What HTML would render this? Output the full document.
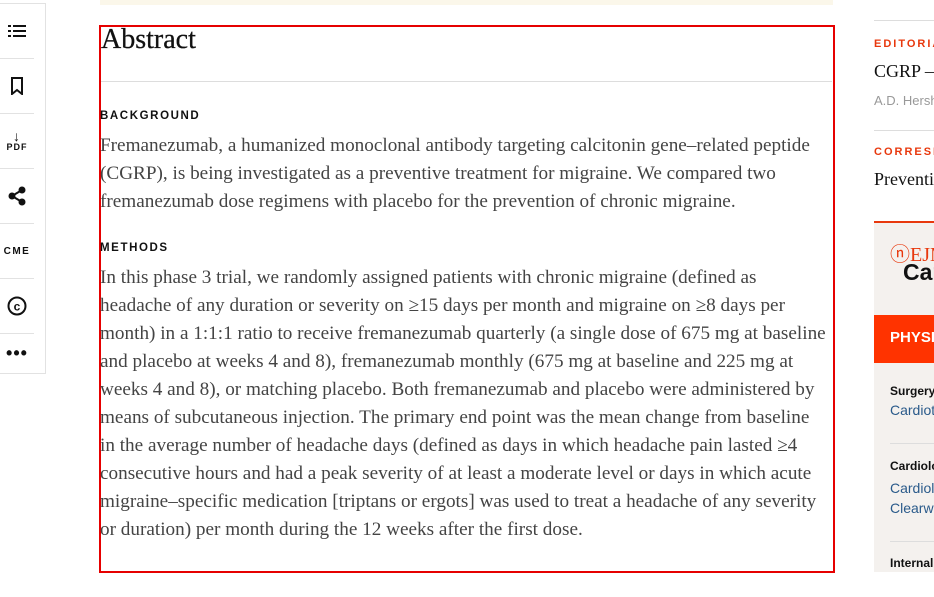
<!DOCTYPE html>
<html><head><meta charset="utf-8"><style>
*{margin:0;padding:0;box-sizing:border-box}
body{width:934px;height:597px;overflow:hidden;background:#fff;position:relative;font-family:"Liberation Serif",serif;color:#444}
.abs{position:absolute;white-space:nowrap}
.side{position:absolute;left:0;top:3px;width:46px;border:1px solid #e2e2e2;border-left:none}
.si{height:55px;border-bottom:1px solid #e2e2e2;display:flex;align-items:center;justify-content:center;width:34px;font-family:"Liberation Sans",sans-serif;color:#111}
.si:last-child{border-bottom:none;height:39px}
.lbl{font-family:"Liberation Sans",sans-serif;font-weight:bold;font-size:11.5px;letter-spacing:1.6px;color:#111}
.ln{font-size:19.2px;line-height:28px;left:100px}
.rs{font-family:"Liberation Sans",sans-serif}
#right{position:absolute;left:0;top:0;width:934px;height:597px;overflow:hidden}
</style></head><body>
<div class="side">
 <div class="si"><svg width="18" height="14"><g fill="#111"><rect x="0" y="1" width="3" height="2"/><rect x="5" y="1" width="13" height="2"/><rect x="0" y="6" width="3" height="2"/><rect x="5" y="6" width="13" height="2"/><rect x="0" y="11" width="3" height="2"/><rect x="5" y="11" width="13" height="2"/></g></svg></div>
 <div class="si"><svg width="14" height="18"><path d="M2 1h10v16l-5-4-5 4z" fill="none" stroke="#111" stroke-width="2"/></svg></div>
 <div class="si" style="flex-direction:column;font-size:9px;font-weight:bold;letter-spacing:1px"><span style="font-size:14px;line-height:12px;font-weight:bold">↓</span>PDF</div>
 <div class="si"><svg width="18" height="20"><g fill="#111"><circle cx="14" cy="4" r="3.5"/><circle cx="4" cy="10" r="3.5"/><circle cx="14" cy="16" r="3.5"/></g><path d="M14 4L4 10L14 16" stroke="#111" stroke-width="2" fill="none"/></svg></div>
 <div class="si" style="font-size:10px;font-weight:bold;letter-spacing:1.5px">CME</div>
 <div class="si"><svg width="20" height="20"><circle cx="10" cy="10" r="8.5" fill="none" stroke="#111" stroke-width="2"/><text x="10" y="14.5" text-anchor="middle" font-family="Liberation Sans" font-weight="bold" font-size="12" fill="#111">c</text></svg></div>
 <div class="si" style="font-size:18px;font-weight:bold;letter-spacing:1px">•••</div>
</div>
<div class="abs" style="left:100px;top:0;width:733px;height:5px;background:#fbf7ea"></div>
<div class="abs" style="left:99px;top:25px;width:736px;height:548px;border:2px solid #e60000"></div>
<div class="abs" style="left:101px;top:24px;font-size:28px;color:#111;-webkit-text-stroke:0.3px #111">Abstract</div>
<div class="abs" style="left:101px;top:81px;width:731px;height:1px;background:#ddd"></div>
<div class="abs lbl" style="left:100px;top:110px">BACKGROUND</div>
<div class="abs ln" style="top:132px">Fremanezumab, a humanized monoclonal antibody targeting calcitonin gene–related peptide<br>(CGRP), is being investigated as a preventive treatment for migraine. We compared two<br>fremanezumab dose regimens with placebo for the prevention of chronic migraine.</div>
<div class="abs lbl" style="left:100px;top:242px">METHODS</div>
<div class="abs ln" style="top:264px">In this phase 3 trial, we randomly assigned patients with chronic migraine (defined as<br>headache of any duration or severity on ≥15 days per month and migraine on ≥8 days per<br>month) in a 1:1:1 ratio to receive fremanezumab quarterly (a single dose of 675 mg at baseline<br>and placebo at weeks 4 and 8), fremanezumab monthly (675 mg at baseline and 225 mg at<br>weeks 4 and 8), or matching placebo. Both fremanezumab and placebo were administered by<br>means of subcutaneous injection. The primary end point was the mean change from baseline<br>in the average number of headache days (defined as days in which headache pain lasted ≥4<br>consecutive hours and had a peak severity of at least a moderate level or days in which acute<br>migraine–specific medication [triptans or ergots] was used to treat a headache of any severity<br>or duration) per month during the 12 weeks after the first dose.</div>

<div id="right">
<div class="abs" style="left:874px;top:20px;width:60px;height:1px;background:#ddd"></div>
<div class="abs rs" style="left:874px;top:38px;font-size:11px;font-weight:bold;letter-spacing:2px;color:#e8380d">EDITORIAL</div>
<div class="abs" style="left:874px;top:61px;font-size:18px;color:#111">CGRP — The Next Frontier</div>
<div class="abs rs" style="left:874px;top:93px;font-size:13px;color:#999">A.D. Hershey</div>
<div class="abs" style="left:874px;top:130px;width:60px;height:1px;background:#ddd"></div>
<div class="abs rs" style="left:874px;top:146px;font-size:11px;font-weight:bold;letter-spacing:2px;color:#e8380d">CORRESPONDENCE</div>
<div class="abs" style="left:874px;top:169px;font-size:18px;color:#111">Preventive Treatment</div>
<div class="abs" style="left:874px;top:221px;width:60px;height:351px;background:#f4f1ee;border-top:2px solid #e8380d"></div>
<div class="abs" style="left:890px;top:238px;font-size:20px;color:#e8380d">ⓝEJM</div>
<div class="abs rs" style="left:903px;top:259px;font-size:23px;font-weight:bold;color:#111">Career</div>
<div class="abs rs" style="left:874px;top:315px;width:60px;height:48px;background:#ff3300;color:#fff;font-weight:bold;font-size:15px;padding:14px 0 0 16px;overflow:hidden">PHYSICIAN</div>
<div class="abs rs" style="left:890px;top:384px;font-size:12px;font-weight:bold;color:#111">Surgery, Cardio</div>
<div class="abs rs" style="left:890px;top:402px;font-size:14px;color:#2a5a8a">Cardiothoracic</div>
<div class="abs" style="left:890px;top:443px;width:44px;height:1px;background:#ddd"></div>
<div class="abs rs" style="left:890px;top:459px;font-size:12px;font-weight:bold;color:#111">Cardiology</div>
<div class="abs rs" style="left:890px;top:478px;font-size:14px;line-height:20px;color:#2a5a8a">Cardiologist<br>Clearwater</div>
<div class="abs" style="left:890px;top:541px;width:44px;height:1px;background:#ddd"></div>
<div class="abs rs" style="left:890px;top:556px;font-size:12px;font-weight:bold;color:#111">Internal</div>
</div>
</body></html>
